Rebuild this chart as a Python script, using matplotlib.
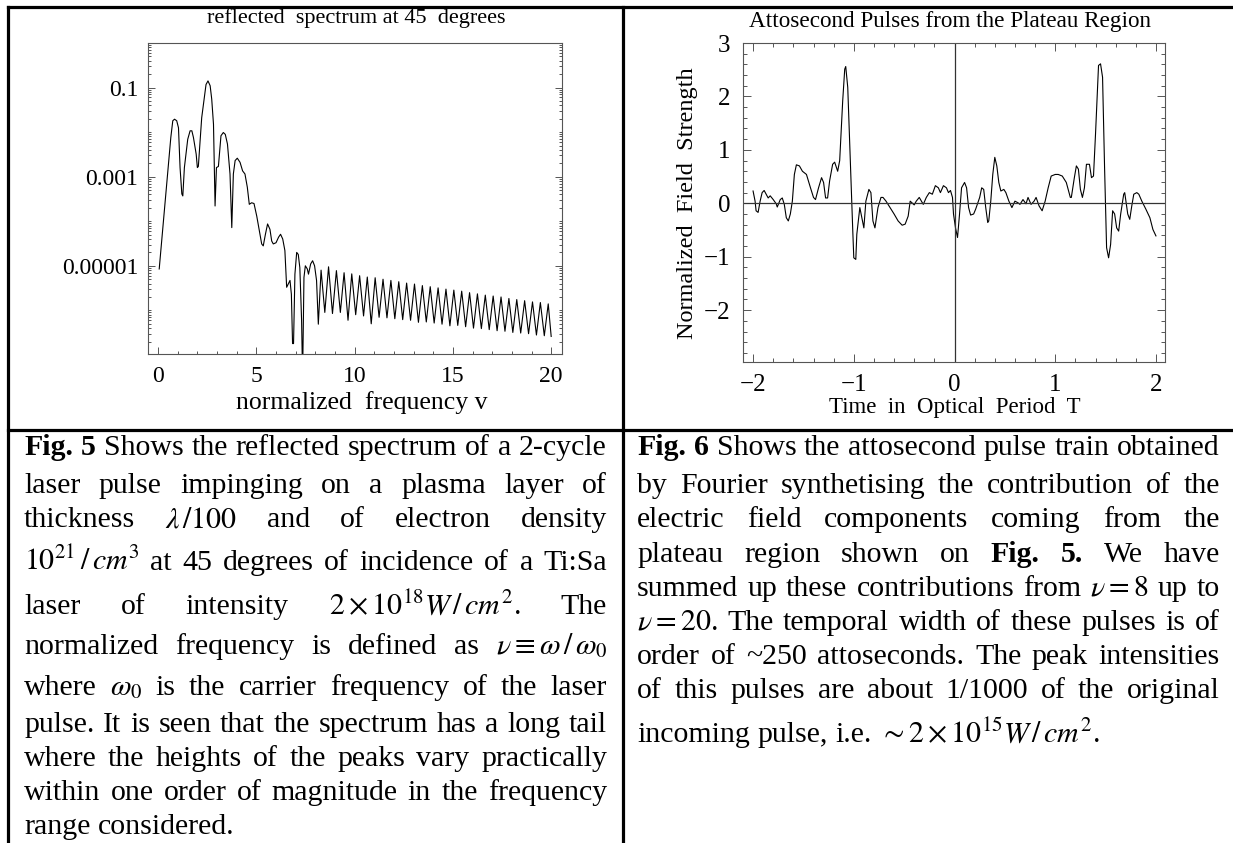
import matplotlib
matplotlib.use("Agg")
import matplotlib.pyplot as plt
from matplotlib.lines import Line2D
from matplotlib.ticker import LogLocator, NullFormatter, MultipleLocator

plt.rcParams['font.family'] = ['Liberation Serif', 'DejaVu Serif']
plt.rcParams['mathtext.fontset'] = 'stix'

# ---- Fig. 5: reflected spectrum (normalized frequency, spectral intensity)
head_nu = [0.07, 0.66, 0.76, 0.85, 0.96, 1.05, 1.13, 1.22, 1.27, 1.35, 1.52, 1.64, 1.73,
           1.81, 1.95, 2.01, 2.06, 2.23, 2.32, 2.45, 2.55, 2.66, 2.74, 2.83, 2.91, 2.98,
           3.08, 3.21, 3.33, 3.43, 3.54, 3.67, 3.76, 3.84, 3.93, 4.04, 4.18, 4.31, 4.43,
           4.55, 4.65, 4.77, 4.89, 5.03, 5.16, 5.28, 5.36, 5.47, 5.58, 5.70, 5.79, 5.87,
           6.01, 6.14, 6.24, 6.35, 6.46, 6.55, 6.63, 6.72, 6.79, 6.85, 6.90, 6.97, 7.06,
           7.14, 7.22, 7.31, 7.36, 7.43, 7.50, 7.60, 7.66, 7.77, 7.87, 7.97, 8.07, 8.16]
head_spec = [8.5e-6, 7.6e-3, 1.8e-2, 1.95e-2, 1.8e-2, 1.25e-2, 1.6e-3, 4.1e-4, 3.7e-4,
             1.6e-3, 6.9e-3, 1.07e-2, 1.07e-2, 7.6e-3, 3.2e-3, 1.6e-3, 1.7e-3, 2.1e-2,
             4.3e-2, 0.117, 0.141, 0.11, 5.5e-2, 1.5e-2, 2.2e-4, 1.6e-3, 1.7e-3, 8.3e-3,
             9.8e-3, 8.9e-3, 5.4e-3, 1.15e-3, 7.2e-5, 1.15e-3, 2.3e-3, 2.6e-3, 2.1e-3,
             1.35e-3, 1.15e-3, 5.8e-4, 2.4e-4, 2.6e-4, 2.5e-4, 1.3e-4, 6.2e-5, 3.1e-5,
             2.8e-5, 5.1e-5, 8.7e-5, 6.6e-5, 3.6e-5, 3.1e-5, 3.3e-5, 4.4e-5, 5.1e-5, 4.0e-5,
             2.2e-5, 3.3e-6, 3.9e-6, 4.7e-6, 2.3e-6, 1.8e-7, 1.8e-7, 6.5e-6, 2.0e-5, 1.8e-5,
             9.1e-6, 5.9e-7, 3e-8, 5.5e-6, 1.0e-5, 8.5e-6, 6.5e-6, 1.1e-5, 1.3e-5, 1.0e-5,
             4.7e-6, 4.9e-7]
tail_nu = [8.30, 8.49, 8.68, 8.88, 9.08, 9.28, 9.47, 9.67, 9.86, 10.06, 10.26, 10.46,
           10.65, 10.85, 11.05, 11.25, 11.45, 11.65, 11.85, 12.05, 12.25, 12.45, 12.65,
           12.85, 13.05, 13.25, 13.45, 13.65, 13.85, 14.05, 14.25, 14.45, 14.65, 14.85,
           15.05, 15.25, 15.45, 15.65, 15.85, 16.05, 16.25, 16.45, 16.65, 16.85, 17.05,
           17.25, 17.45, 17.65, 17.85, 18.05, 18.25, 18.45, 18.65, 18.85, 19.05, 19.25,
           19.45, 19.65, 19.85, 20.00]
tail_spec = [8.0e-6, 9.0e-7, 9.5e-6, 8.5e-7, 7.8e-6, 9.0e-7, 7.0e-6, 6.0e-7, 6.6e-6, 8.0e-7,
             6.0e-6, 7.5e-7, 5.6e-6, 5.0e-7, 5.4e-6, 7.0e-7, 5.0e-6, 6.8e-7, 4.7e-6, 6.5e-7,
             4.4e-6, 6.2e-7, 4.1e-6, 6.0e-7, 3.9e-6, 5.4e-7, 3.6e-6, 5.5e-7, 3.4e-6, 5.2e-7,
             3.2e-6, 4.9e-7, 3.0e-6, 4.5e-7, 2.85e-6, 4.6e-7, 2.7e-6, 4.3e-7, 2.5e-6, 4.0e-7,
             2.35e-6, 3.9e-7, 2.2e-6, 3.7e-7, 2.1e-6, 3.5e-7, 2.0e-6, 3.4e-7, 1.85e-6, 3.2e-7,
             1.75e-6, 3.1e-7, 1.65e-6, 3.0e-7, 1.55e-6, 2.8e-7, 1.5e-6, 2.7e-7, 1.4e-6, 2.6e-7]

spec_ticks = [1e-1, 1e-3, 1e-5]
spec_ticklabels = ['0.1', '0.001', '0.00001']
nu_ticks = [0, 5, 10, 15, 20]

# ---- Fig. 6: attosecond pulses (time in optical periods, field strength)
t_period = [-2.00, -1.98, -1.97, -1.95, -1.93, -1.91, -1.89, -1.87, -1.85, -1.83, -1.80,
            -1.77, -1.76, -1.73, -1.71, -1.69, -1.67, -1.65, -1.63, -1.61, -1.59, -1.57,
            -1.54, -1.51, -1.47, -1.43, -1.40, -1.38, -1.35, -1.32, -1.30, -1.28, -1.26,
            -1.24, -1.21, -1.19, -1.16, -1.14, -1.11, -1.09, -1.08, -1.06, -1.03, -1.01,
            -1.00, -0.98, -0.97, -0.94, -0.92, -0.90, -0.88, -0.85, -0.83, -0.81, -0.79,
            -0.76, -0.73, -0.71, -0.68, -0.64, -0.60, -0.56, -0.52, -0.49, -0.46, -0.44,
            -0.40, -0.38, -0.35, -0.31, -0.28, -0.25, -0.22, -0.19, -0.16, -0.14, -0.11,
            -0.08, -0.06, -0.04, -0.02, -0.01, 0.01, 0.03, 0.05, 0.07, 0.10, 0.12, 0.14,
            0.16, 0.19, 0.21, 0.25, 0.27, 0.29, 0.31, 0.33, 0.34, 0.36, 0.38, 0.40, 0.42,
            0.44, 0.46, 0.49, 0.51, 0.54, 0.57, 0.60, 0.63, 0.65, 0.68, 0.71, 0.73, 0.76,
            0.79, 0.81, 0.84, 0.87, 0.90, 0.93, 0.96, 1.00, 1.03, 1.07, 1.11, 1.15, 1.16,
            1.19, 1.21, 1.23, 1.25, 1.27, 1.29, 1.31, 1.34, 1.36, 1.38, 1.40, 1.43, 1.45,
            1.47, 1.49, 1.51, 1.53, 1.55, 1.57, 1.59, 1.61, 1.63, 1.65, 1.68, 1.69, 1.72,
            1.74, 1.76, 1.78, 1.81, 1.83, 1.86, 1.90, 1.94, 1.97, 2.00]
field = [0.23, 0.04, -0.14, -0.17, 0.04, 0.20, 0.24, 0.17, 0.10, 0.14, 0.07,
         -0.01, -0.07, 0.07, 0.10, -0.02, -0.27, -0.33, -0.20, 0.04, 0.54, 0.72,
         0.70, 0.60, 0.54, 0.29, 0.11, 0.07, 0.29, 0.48, 0.39, 0.10, 0.10,
         0.42, 0.73, 0.77, 0.60, 0.80, 1.92, 2.51, 2.56, 2.17, 0.54, -0.52,
         -1.02, -1.05, -0.58, -0.08, -0.27, -0.46, 0.04, 0.26, 0.20, -0.33, -0.46,
         -0.08, 0.11, 0.11, 0.04, -0.08, -0.20, -0.33, -0.41, -0.39, -0.24, 0.04,
         -0.03, 0.04, 0.11, -0.02, 0.11, 0.20, 0.17, 0.33, 0.29, 0.20, 0.33,
         0.29, 0.20, 0.24, 0.11, -0.20, -0.46, -0.64, -0.20, 0.29, 0.39, 0.29, -0.08,
         -0.22, -0.20, -0.11, 0.11, 0.29, 0.26, -0.08, -0.36, -0.33, 0.04, 0.54, 0.86, 0.70,
         0.39, 0.23, 0.26, 0.20, 0.04, -0.08, 0.04, 0.01, -0.02, 0.07, -0.01, 0.11, -0.02,
         0.04, 0.11, -0.05, -0.14, 0.04, 0.29, 0.51, 0.54, 0.54, 0.51, 0.39, 0.11, 0.11,
         0.48, 0.70, 0.64, 0.26, 0.11, 0.29, 0.73, 0.73, 0.48, 0.51, 1.29, 2.58, 2.61,
         2.36, 0.67, -0.83, -1.02, -0.77, -0.14, -0.20, -0.46, -0.52, -0.20, 0.17, 0.20, -0.20,
         -0.30, -0.05, 0.17, 0.20, 0.17, 0.04, -0.11, -0.27, -0.49, -0.61]
t_ticks = [-2, -1, 0, 1, 2]
field_ticks = [-2, -1, 0, 1, 2, 3]

# ---- captions
caption5 = [
    "**Fig. **5 Shows the reflected spectrum of  a 2-cycle",
    "laser pulse impinging on a plasma layer of",
    r"thickness $\lambda\,/100$ and of electron density",
    r"$10^{21}\,/\,cm^3$ at 45 degrees of incidence of a Ti:Sa",
    r"laser of intensity $2\times10^{18}W\,/\,cm^2$. The",
    r"normalized frequency is defined as $\nu\equiv\omega\,/\,\omega_0$",
    r"where $\omega_0$ is the carrier frequency of the laser",
    "pulse. It is seen that the spectrum has a long tail",
    "where the heights of the peaks vary practically",
    "within one order of magnitude in the frequency",
    "range considered.",
]
caption6 = [
    "**Fig. **6 Shows the attosecond pulse train obtained",
    "by Fourier synthetising the contribution of the",
    "electric field components coming from the",
    "plateau region shown on **Fig. **5. We have",
    r"summed up these contributions from $\nu=8$ up to",
    r"$\nu=20$. The temporal width of these pulses is of",
    "order of ~250 attoseconds. The peak intensities",
    "of this pulses are about 1/1000 of the original",
    r"incoming pulse, i.e. $\sim2\times10^{15}W\,/\,cm^2$.",
]
base5 = [455, 493, 527, 570, 614, 654, 695, 732, 766, 800, 834]
base6 = [455, 493, 527, 562, 596, 630, 664, 698, 742]

W, H = 1233, 843
fig = plt.figure(figsize=(W / 100, H / 100), dpi=100)
renderer = fig.canvas.get_renderer()
FS = 21.5


def fx(x):
    return x / W


def fy(y):
    return 1 - y / H


def put_line(text, x0, x1, y, justify=True):
    # lay the words of one caption line out, spread to the full cell width
    arts = []
    for w in text.split():
        bold = w.startswith('**')
        s = w.replace('**', '')
        arts.append(fig.text(fx(x0), fy(y), s, fontsize=FS, va='baseline', ha='left',
                             fontweight='bold' if bold else 'normal'))
    widths = [a.get_window_extent(renderer).width for a in arts]
    gap = FS * 1.39 * 0.25
    if justify and len(arts) > 1:
        gap = (x1 - x0 - sum(widths)) / (len(arts) - 1)
    x = x0
    for a, w in zip(arts, widths):
        a.set_x(fx(x))
        x += w + gap


for i, line in enumerate(caption5):
    put_line(line, 24, 607, base5[i], justify=i < len(caption5) - 1)
for i, line in enumerate(caption6):
    put_line(line, 637, 1220, base6[i], justify=i < len(caption6) - 1)

# table rules
for (xa, ya, xb, yb) in [(8, 7, W, 7), (8, 7, 8, H), (623, 7, 623, H), (8, 430, W, 430)]:
    fig.add_artist(Line2D([fx(xa), fx(xb)], [fy(ya), fy(yb)], color='black', lw=2.3))

frame_col = '#555555'

# left panel
ax1 = fig.add_axes([fx(148), fy(354), (562 - 148) / W, (354 - 43) / H])
ax1.plot(head_nu + tail_nu, head_spec + tail_spec, color='black', lw=0.8)
ax1.set_yscale('log')
ax1.set_xlim(-0.5, 20.55)
ax1.set_ylim(1.05e-7, 1.0)
ax1.set_yticks(spec_ticks)
ax1.set_yticklabels(spec_ticklabels)
ax1.yaxis.set_minor_locator(LogLocator(base=10, subs=range(1, 10), numticks=20))
ax1.yaxis.set_minor_formatter(NullFormatter())
ax1.set_xticks(nu_ticks)
ax1.xaxis.set_minor_locator(MultipleLocator(1))
ax1.tick_params(which='both', direction='in', right=True, top=False, color=frame_col,
                labelsize=17, width=0.7)
ax1.tick_params(which='major', length=5, pad=9)
ax1.tick_params(axis='y', which='major', pad=7)
ax1.tick_params(which='minor', length=2.5)
for sp in ax1.spines.values():
    sp.set_color(frame_col)
    sp.set_linewidth(0.8)
fig.text(fx(356), fy(18), "reflected  spectrum at 45  degrees", fontsize=16,
         ha='center', va='center')
fig.text(fx(362), fy(403), "normalized  frequency v", fontsize=18.5, ha='center', va='center')

# right panel
ax2 = fig.add_axes([fx(743), fy(362), (1165 - 743) / W, (362 - 43) / H])
ax2.plot(t_period, field, color='black', lw=0.8)
ax2.axhline(0, color='#333333', lw=0.9)
ax2.axvline(0, color='#333333', lw=0.9)
ax2.set_xlim(-2.1, 2.09)
ax2.set_ylim(-2.97, 3.0)
ax2.set_xticks(t_ticks)
ax2.set_yticks(field_ticks)
ax2.xaxis.set_minor_locator(MultipleLocator(0.2))
ax2.yaxis.set_minor_locator(MultipleLocator(0.2))
ax2.tick_params(which='both', direction='in', right=True, top=True, color=frame_col,
                labelsize=18, width=0.7)
ax2.tick_params(which='major', length=6, pad=9)
ax2.tick_params(which='minor', length=3)
for sp in ax2.spines.values():
    sp.set_color(frame_col)
    sp.set_linewidth(0.8)
fig.text(fx(950), fy(21), "Attosecond Pulses from the Plateau Region", fontsize=16.7,
         ha='center', va='center')
fig.text(fx(955), fy(408), "Time  in  Optical  Period  T", fontsize=16.5, ha='center',
         va='center')
fig.text(fx(687), fy(203), "Normalized  Field  Strength", fontsize=17.5, ha='center',
         va='center', rotation=90)

fig.savefig("out.png", dpi=100)
